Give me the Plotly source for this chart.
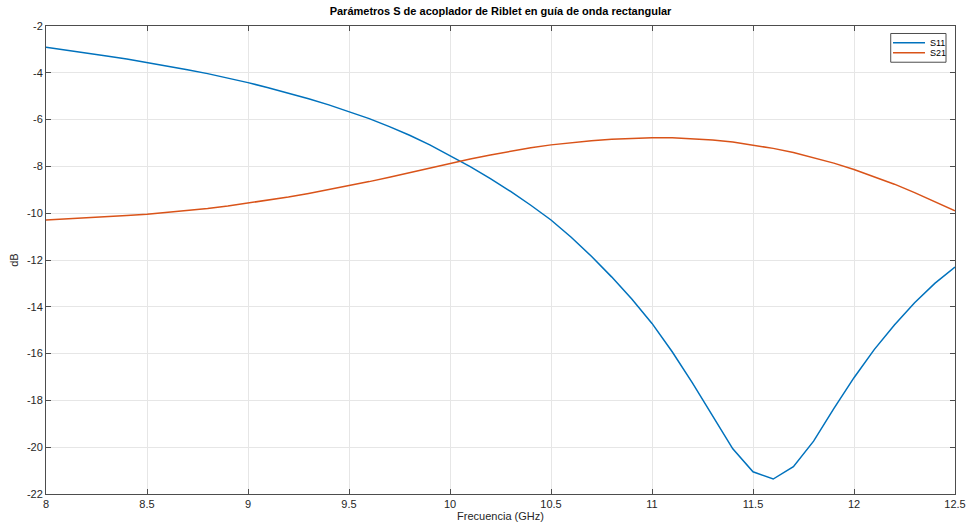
import plotly.graph_objects as go

freq = [round(8 + 0.1 * i, 1) for i in range(46)]
s11 = [-2.91, -3.025, -3.15, -3.28, -3.415, -3.555, -3.705, -3.865, -4.035, -4.22,
       -4.42, -4.635, -4.865, -5.11, -5.37, -5.65, -5.96, -6.30, -6.67, -7.08,
       -7.53, -8.01, -8.52, -9.07, -9.66, -10.29, -11.03, -11.84, -12.72, -13.67,
       -14.71, -15.92, -17.25, -18.68, -20.07, -21.05, -21.36, -20.83, -19.74, -18.35,
       -17.03, -15.83, -14.78, -13.83, -13.00, -12.30]
s21 = [-10.29, -10.25, -10.205, -10.155, -10.10, -10.04, -9.97, -9.89, -9.80, -9.695,
       -9.575, -9.445, -9.305, -9.155, -8.995, -8.83, -8.65, -8.46, -8.26, -8.06,
       -7.86, -7.68, -7.51, -7.35, -7.205, -7.08, -6.98, -6.90, -6.84, -6.80,
       -6.78, -6.78, -6.81, -6.87, -6.96, -7.08, -7.23, -7.41, -7.62, -7.86,
       -8.13, -8.43, -8.76, -9.12, -9.50, -9.90]

series_names = ["S11", "S21"]
series_colors = ["#0072BD", "#D95319"]

x_ticks = [8, 8.5, 9, 9.5, 10, 10.5, 11, 11.5, 12, 12.5]
x_labels = ["8", "8.5", "9", "9.5", "10", "10.5", "11", "11.5", "12", "12.5"]
y_ticks = [-22, -20, -18, -16, -14, -12, -10, -8, -6, -4, -2]
y_labels = ["-22", "-20", "-18", "-16", "-14", "-12", "-10", "-8", "-6", "-4", "-2"]

FONT = "Liberation Sans, Arial, sans-serif"
TXT = "#262626"

fig = go.Figure()
for name, vals, col in zip(series_names, [s11, s21], series_colors):
    fig.add_trace(go.Scatter(x=freq, y=vals, mode="lines", name=name,
                             line=dict(color=col, width=1.5)))

# compact MATLAB-style legend box (drawn in paper coordinates)
fig.add_shape(type="rect", xref="paper", yref="paper",
              x0=0.9293, x1=0.9901, y0=0.9226, y1=0.9840,
              line=dict(color="#4d4d4d", width=1), fillcolor="white", layer="above")
for i, (name, col) in enumerate(zip(series_names, series_colors)):
    yy = 0.9641 - i * 0.0214
    fig.add_shape(type="line", xref="paper", yref="paper",
                  x0=0.9318, x1=0.9670, y0=yy, y1=yy,
                  line=dict(color=col, width=1.5), layer="above")
    fig.add_annotation(xref="paper", yref="paper", x=0.9703, y=yy, text=name,
                       showarrow=False, xanchor="left", yanchor="middle",
                       font=dict(family=FONT, size=9, color="black"))

axis_common = dict(showline=True, linecolor="#4d4d4d", linewidth=1, mirror="ticks",
                   ticks="inside", ticklen=5, tickcolor="#4d4d4d", automargin=False,
                   showgrid=True, gridcolor="#e6e6e6", gridwidth=1, zeroline=False,
                   tickfont=dict(family=FONT, size=11, color=TXT))

fig.update_layout(
    width=966, height=524,
    margin=dict(l=46, r=11, t=26, b=30),
    paper_bgcolor="white", plot_bgcolor="white",
    title=dict(text="<b>Parámetros S de acoplador de Riblet en guía de onda rectangular</b>",
               x=0.5, xref="paper", y=1, yref="container", yanchor="top", pad=dict(t=7),
               font=dict(family=FONT, size=11, color="black")),
    xaxis=dict(range=[8, 12.5], tickvals=x_ticks, ticktext=x_labels,
               title=dict(text="Frecuencia (GHz)", standoff=2,
                          font=dict(family=FONT, size=11, color=TXT)),
               **axis_common),
    yaxis=dict(range=[-22, -2], tickvals=y_ticks, ticktext=y_labels,
               title=dict(text="dB", standoff=6,
                          font=dict(family=FONT, size=11, color=TXT)),
               **axis_common),
    showlegend=False,
)

fig.write_html("out.html")
